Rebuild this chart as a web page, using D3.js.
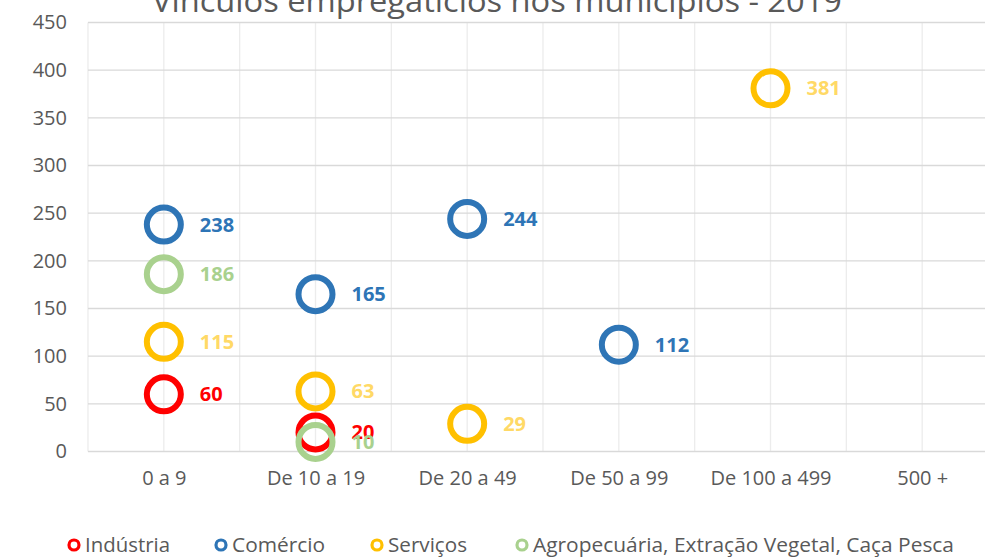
<!DOCTYPE html>
<html>
<head>
<meta charset="utf-8">
<script src="https://cdn.jsdelivr.net/npm/d3@7"></script>
<style>
  body { margin: 0; background: #fff; }
  svg { display: block; font-family: "Open Sans", "Noto Sans", sans-serif; }
</style>
</head>
<body>
<div id="chart"></div>
<script>
// categories and series (null = no point)
const categories = ["0 a 9", "De 10 a 19", "De 20 a 49", "De 50 a 99", "De 100 a 499", "500 +"];
const industria = [60, 20, null, null, null, null];
const comercio = [238, 165, 244, 112, null, null];
const servicos = [115, 63, 29, null, 381, null];
const agro = [186, 10, null, null, null, null];
const yTicks = [0, 50, 100, 150, 200, 250, 300, 350, 400, 450];

const series = [
    {name: "Indústria", values: industria, color: "#ff0000", label: "#ff0000"},
    {name: "Comércio", values: comercio, color: "#2e75b6", label: "#2e75b6"},
    {name: "Serviços", values: servicos, color: "#ffc000", label: "#ffd966"},
    {name: "Agropecuária, Extração Vegetal, Caça Pesca", values: agro, color: "#a9d18e", label: "#a9d18e"}
];

const W = 985, H = 558;
const svg = d3.select("#chart").append("svg")
    .attr("width", W)
    .attr("height", H);

// plot box runs past the right edge, like the reference
let x = d3.scaleLinear().domain([0.5, 6.5]).range([88, 998]);
let y = d3.scaleLinear().domain([0, 450]).range([451.5, 22.5]);

// grid
let grid = svg.append("g");
d3.range(0.5, 6.51, 0.5).forEach(v => {
    grid.append("line")
        .attr("x1", x(v)).attr("x2", x(v))
        .attr("y1", y(450)).attr("y2", y(0))
        .attr("stroke", "#ececec").attr("stroke-width", 1.3);
});
yTicks.forEach(t => {
    grid.append("line")
        .attr("x1", x(0.5)).attr("x2", W)
        .attr("y1", y(t)).attr("y2", y(t))
        .attr("stroke", "#d9d9d9").attr("stroke-width", 1.3);
});

// axes
let yAxis = d3.axisLeft(y).tickValues(yTicks).tickSize(0).tickPadding(21);
svg.append("g")
    .attr("transform", `translate(${x(0.5)},0)`)
    .call(yAxis)
    .call(g => g.select(".domain").remove())
    .selectAll("text")
    .attr("font-size", 20)
    .attr("fill", "#595959")
    .style("font-family", "'Open Sans', sans-serif");

let xAxis = d3.axisBottom(x).tickValues(d3.range(1, 7)).tickFormat(d => categories[d - 1]).tickSize(0).tickPadding(19);
svg.append("g")
    .attr("transform", `translate(0,${y(0)})`)
    .call(xAxis)
    .call(g => g.select(".domain").remove())
    .selectAll("text")
    .attr("font-size", 20)
    .attr("fill", "#595959")
    .attr("textLength", 0)
    .style("font-family", "'Open Sans', sans-serif")
    .each(function() { d3.select(this).attr("textLength", null); });

// title (clipped at top)
svg.append("text")
    .attr("x", 497)
    .attr("y", 12)
    .attr("text-anchor", "middle")
    .attr("font-size", 31)
    .attr("fill", "#595959")
    .attr("textLength", 690)
    .attr("lengthAdjust", "spacingAndGlyphs")
    .text("Vínculos empregatícios nos municípios - 2019");

// markers
series.forEach(s => {
    svg.append("g").selectAll("circle")
        .data(s.values.map((v, i) => ({v, i})).filter(d => d.v != null))
        .join("circle")
        .attr("cx", d => x(d.i + 1))
        .attr("cy", d => y(d.v))
        .attr("r", 17)
        .attr("fill", "none")
        .attr("stroke", s.color)
        .attr("stroke-width", 6);
});

// data labels
series.forEach(s => {
    svg.append("g").selectAll("text")
        .data(s.values.map((v, i) => ({v, i})).filter(d => d.v != null))
        .join("text")
        .attr("x", d => x(d.i + 1) + 36)
        .attr("y", d => y(d.v) + 7)
        .attr("font-size", 20)
        .attr("font-weight", "bold")
        .attr("fill", s.label)
        .text(d => d.v);
});

// legend
let legendX = [74, 221, 377, 522];
let legendW = [85, 93, 79, 421];
let legend = svg.append("g").attr("transform", "translate(0,545)");
series.forEach((s, i) => {
    legend.append("circle")
        .attr("cx", legendX[i]).attr("cy", 0)
        .attr("r", 5)
        .attr("fill", "none")
        .attr("stroke", s.color)
        .attr("stroke-width", 3.2);
    legend.append("text")
        .attr("x", legendX[i] + 11)
        .attr("y", 7)
        .attr("font-size", 20)
        .attr("fill", "#595959")
        .attr("textLength", legendW[i])
        .attr("lengthAdjust", "spacingAndGlyphs")
        .text(s.name);
});
</script>
</body>
</html>
